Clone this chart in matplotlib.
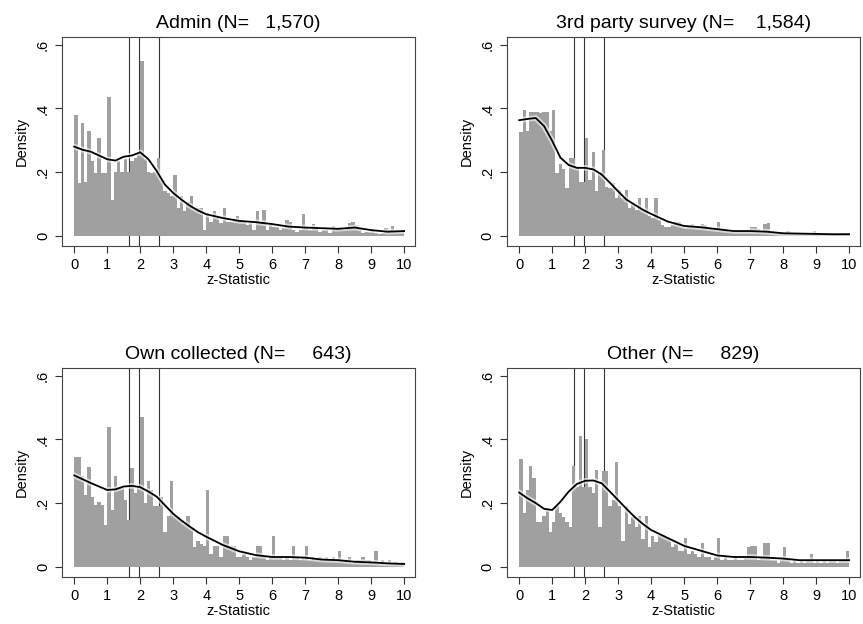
"""
z-statistic histograms by data source, with kernel density and significance lines
"""

import numpy as np
import matplotlib
matplotlib.use('Agg')
import matplotlib.pyplot as plt

plt.rcParams['font.family'] = ['Liberation Sans', 'DejaVu Sans']

titles = ['Admin (N=   1,570)', '3rd party survey (N=    1,584)',
          'Own collected (N=     643)', 'Other (N=     829)']

# histogram heights, bins of width 0.1 from 0 to 10
admin_hist = [
    0.38, 0.166, 0.354, 0.17, 0.33, 0.234, 0.197, 0.308, 0.197, 0.197,
    0.435, 0.113, 0.2, 0.236, 0.2, 0.24, 0.2, 0.234, 0.245, 0.26,
    0.55, 0.24, 0.2, 0.197, 0.2, 0.245, 0.176, 0.14, 0.134, 0.123,
    0.19, 0.086, 0.125, 0.076, 0.107, 0.125, 0.086, 0.088, 0.086, 0.017,
    0.07, 0.044, 0.076, 0.054, 0.039, 0.086, 0.044, 0.044, 0.049, 0.06,
    0.044, 0.042, 0.033, 0.039, 0.017, 0.076, 0.039, 0.081, 0.017, 0.033,
    0.028, 0.028, 0.017, 0.023, 0.049, 0.044, 0.017, 0.012, 0.017, 0.067,
    0.028, 0.017, 0.035, 0.023, 0.012, 0.017, 0.017, 0.007, 0.031, 0.021,
    0.028, 0.017, 0.028, 0.039, 0.044, 0.033, 0.023, 0.007, 0.012, 0.012,
    0.014, 0.007, 0.005, 0.007, 0.025, 0.017, 0.031, 0.014, 0.014, 0.017]
survey_hist = [
    0.326, 0.395, 0.33, 0.39, 0.39, 0.39, 0.385, 0.39, 0.39, 0.33,
    0.395, 0.197, 0.226, 0.208, 0.15, 0.245, 0.245, 0.215, 0.17, 0.17,
    0.306, 0.176, 0.264, 0.14, 0.2, 0.268, 0.152, 0.15, 0.166, 0.118,
    0.144, 0.118, 0.144, 0.086, 0.1, 0.08, 0.118, 0.08, 0.118, 0.06,
    0.055, 0.118, 0.05, 0.033, 0.028, 0.028, 0.033, 0.044, 0.044, 0.028,
    0.025, 0.028, 0.035, 0.025, 0.025, 0.036, 0.033, 0.023, 0.023, 0.023,
    0.044, 0.017, 0.017, 0.017, 0.012, 0.012, 0.012, 0.012, 0.01, 0.012,
    0.026, 0.026, 0.02, 0.012, 0.035, 0.039, 0.01, 0.008, 0.008, 0.01,
    0.008, 0.014, 0.005, 0.005, 0.005, 0.008, 0.005, 0.005, 0.005, 0.014,
    0.005, 0.004, 0.005, 0.004, 0.004, 0.005, 0.004, 0.007, 0.007, 0.007]
own_hist = [
    0.346, 0.346, 0.284, 0.225, 0.314, 0.22, 0.193, 0.204, 0.193, 0.13,
    0.44, 0.177, 0.284, 0.25, 0.25, 0.21, 0.145, 0.31, 0.23, 0.25,
    0.47, 0.2, 0.27, 0.24, 0.19, 0.19, 0.22, 0.11, 0.16, 0.27,
    0.16, 0.156, 0.145, 0.134, 0.16, 0.12, 0.06, 0.08, 0.07, 0.065,
    0.24, 0.04, 0.065, 0.065, 0.03, 0.097, 0.097, 0.065, 0.065, 0.03,
    0.03, 0.04, 0.03, 0.02, 0.03, 0.065, 0.065, 0.03, 0.02, 0.03,
    0.095, 0.03, 0.03, 0.02, 0.03, 0.02, 0.065, 0.03, 0.02, 0.03,
    0.065, 0.02, 0.03, 0.02, 0.03, 0.02, 0.03, 0.02, 0.03, 0.02,
    0.05, 0.02, 0.02, 0.03, 0.01, 0.02, 0.02, 0.03, 0.02, 0.02,
    0.01, 0.05, 0.01, 0.02, 0.01, 0.02, 0.01, 0.015, 0.01, 0.015]
other_hist = [
    0.34, 0.17, 0.24, 0.316, 0.28, 0.14, 0.14, 0.16, 0.177, 0.11,
    0.14, 0.19, 0.17, 0.156, 0.14, 0.124, 0.316, 0.25, 0.41, 0.25,
    0.40, 0.25, 0.23, 0.305, 0.124, 0.30, 0.30, 0.19, 0.21, 0.33,
    0.19, 0.08, 0.19, 0.134, 0.156, 0.124, 0.16, 0.086, 0.16, 0.06,
    0.097, 0.076, 0.10, 0.097, 0.092, 0.086, 0.06, 0.07, 0.05, 0.05,
    0.09, 0.04, 0.05, 0.04, 0.03, 0.075, 0.03, 0.03, 0.02, 0.03,
    0.089, 0.02, 0.03, 0.02, 0.02, 0.03, 0.02, 0.02, 0.03, 0.06,
    0.065, 0.065, 0.02, 0.03, 0.074, 0.074, 0.02, 0.02, 0.01, 0.02,
    0.06, 0.02, 0.01, 0.02, 0.01, 0.02, 0.01, 0.02, 0.04, 0.01,
    0.02, 0.01, 0.02, 0.01, 0.02, 0.02, 0.01, 0.02, 0.02, 0.05]

# kernel density lines
kd_z = [0, 0.25, 0.5, 0.75, 1.0, 1.25, 1.5, 1.75, 2.0, 2.25, 2.5, 2.75, 3.0,
        3.25, 3.5, 3.75, 4.0, 4.5, 5.0, 5.5, 6.0, 6.5, 7.0, 7.5, 8.0, 8.5,
        9.0, 9.5, 10.0]
admin_kd = [0.28, 0.27, 0.264, 0.252, 0.24, 0.236, 0.248, 0.252, 0.262, 0.24,
            0.203, 0.16, 0.134, 0.113, 0.094, 0.079, 0.067, 0.055, 0.046,
            0.042, 0.036, 0.028, 0.025, 0.023, 0.021, 0.025, 0.017, 0.012,
            0.014]
survey_kd = [0.363, 0.367, 0.37, 0.345, 0.298, 0.245, 0.222, 0.213, 0.213,
             0.208, 0.192, 0.166, 0.139, 0.113, 0.097, 0.081, 0.068, 0.044,
             0.03, 0.026, 0.02, 0.014, 0.014, 0.012, 0.007, 0.006, 0.005,
             0.004, 0.004]
own_kd = [0.287, 0.275, 0.263, 0.252, 0.241, 0.243, 0.252, 0.254, 0.25,
          0.236, 0.22, 0.193, 0.166, 0.145, 0.126, 0.108, 0.094, 0.068,
          0.048, 0.036, 0.03, 0.03, 0.028, 0.022, 0.02, 0.015, 0.013, 0.01,
          0.008]
other_kd = [0.233, 0.215, 0.2, 0.182, 0.178, 0.204, 0.236, 0.26, 0.27, 0.271,
            0.262, 0.236, 0.209, 0.182, 0.156, 0.134, 0.115, 0.09, 0.065,
            0.05, 0.035, 0.03, 0.03, 0.028, 0.025, 0.02, 0.02, 0.02, 0.02]

hists = [admin_hist, survey_hist, own_hist, other_hist]
kds = [admin_kd, survey_kd, own_kd, other_kd]
crit = [1.65, 1.96, 2.58]
bin_left = np.arange(100) / 10

fig = plt.figure(figsize=(8.63, 6.24), dpi=100)
positions = [[0.0715, 0.6058, 0.4094, 0.3354], [0.5871, 0.6058, 0.4094, 0.3354],
             [0.0715, 0.0753, 0.4094, 0.3354], [0.5871, 0.0753, 0.4094, 0.3354]]

for pos, title, h, kd in zip(positions, titles, hists, kds):
    ax = fig.add_axes(pos)
    for c in crit:
        ax.axvline(c, color='#333333', lw=0.8, zorder=1)
    ax.bar(bin_left, h, width=0.1, align='edge', color='#a0a0a0',
           edgecolor='none', zorder=2)
    ax.plot(kd_z, kd, color='white', lw=4, alpha=0.6, zorder=3)
    ax.plot(kd_z, kd, color='black', lw=1.3, zorder=4)
    ax.set_xlim(-0.38, 10.33)
    ax.set_ylim(-0.033, 0.626)
    ax.set_xticks(range(11))
    ax.set_yticks([0, 0.2, 0.4, 0.6])
    ax.set_yticklabels(['0', '.2', '.4', '.6'], rotation=90, va='center')
    ax.tick_params(labelsize=10.5, length=5, width=0.8, color='#333333')
    ax.set_xlabel('z-Statistic', fontsize=10.5, labelpad=1)
    ax.set_ylabel('Density', fontsize=10.5, labelpad=5)
    ax.set_title(title, fontsize=14, pad=6)
    for s in ax.spines.values():
        s.set_linewidth(0.8)
        s.set_color('#444444')

plt.savefig('out.png', dpi=100)
